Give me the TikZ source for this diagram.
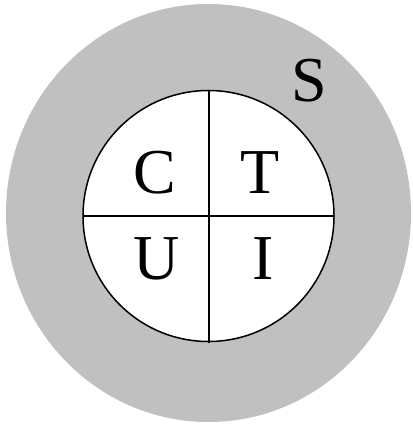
\documentclass[tikz,border=0pt]{standalone}
\usepackage{fontspec}
\setmainfont{Liberation Serif}
\definecolor{ringgray}{RGB}{192,192,192}
\begin{document}
\begin{tikzpicture}[x=1pt,y=1pt,
  lbl/.style={inner sep=0pt,font=\fontsize{64}{64}\selectfont},
  divider/.style={black,line width=1.5pt}]
\useasboundingbox (0,0) rectangle (412,428);
\fill[ringgray] (208.5,215) ellipse [x radius=202.5, y radius=209];
\node[circle,draw=black,fill=white,line width=1.5pt,minimum size=251pt,inner sep=0pt] (inner) at (208.5,212) {};
\coordinate (vt) at (209,337);
\coordinate (vb) at (209,85);
\coordinate (hl) at (83,212);
\coordinate (hr) at (334,212);
\draw[divider] (vt) -- (vb);
\draw[divider] (hl) -- (hr);
\node[lbl] (C) at (155,255) {C};
\node[lbl] (T) at (260,255) {T};
\node[lbl] (U) at (157,169) {U};
\node[lbl] (I) at (263,169) {I};
\node[lbl] (S) at (309,347) {S};
\end{tikzpicture}
\end{document}
